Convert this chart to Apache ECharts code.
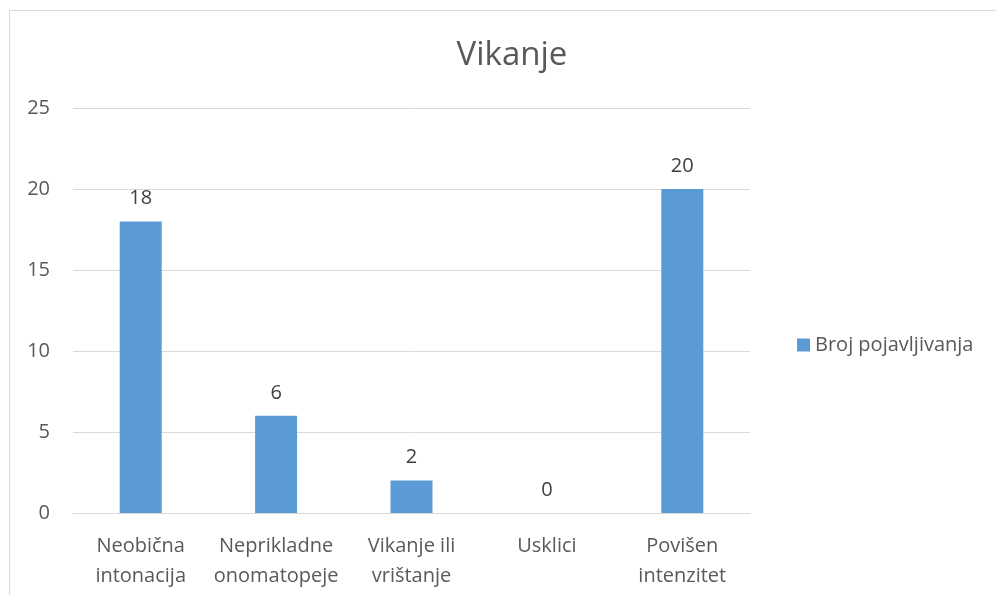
<!DOCTYPE html>
<html>
<head>
<meta charset="utf-8">
<script src="https://cdn.jsdelivr.net/npm/echarts@6/dist/echarts.min.js"></script>
<style>
    html, body { margin: 0; padding: 0; background: #fff; }
    #chart { width: 996px; height: 595px; }
</style>
</head>
<body>
<div id="chart"></div>
<script>
    var categories = ['Neobična\nintonacija', 'Neprikladne\nonomatopeje', 'Vikanje ili\nvrištanje', 'Usklici', 'Povišen\nintenzitet'];
    var counts = [18, 6, 2, 0, 20];
    var seriesName = 'Broj pojavljivanja';

    var font = '"Open Sans", "Noto Sans", sans-serif';
    var chart = echarts.init(document.getElementById('chart'));

    chart.setOption({
        animation: false,
        textStyle: { fontFamily: font },
        graphic: [{
            type: 'rect',
            shape: { x: 9.5, y: 10.5, width: 1000, height: 600 },
            style: { fill: 'none', stroke: '#d9d9d9', lineWidth: 1 },
            silent: true
        }],
        title: {
            text: 'Vikanje',
            left: 507,
            textAlign: 'center',
            top: 34,
            textStyle: { color: '#595959', fontSize: 33, fontWeight: 'normal', fontFamily: font }
        },
        legend: {
            left: 792,
            top: 330,
            itemWidth: 13,
            itemHeight: 13,
            itemGap: 6,
            icon: 'rect',
            textStyle: { color: '#595959', fontSize: 20, fontFamily: font },
            data: [seriesName]
        },
        grid: {
            left: 73,
            right: 246,
            top: 108,
            bottom: 82,
            containLabel: false
        },
        xAxis: {
            type: 'category',
            data: categories,
            axisLine: { show: true, lineStyle: { color: '#d9d9d9' } },
            axisTick: { show: false },
            axisLabel: {
                color: '#595959',
                fontSize: 20,
                lineHeight: 30,
                margin: 18,
                interval: 0,
                fontFamily: font
            }
        },
        yAxis: {
            type: 'value',
            min: 0,
            max: 25,
            interval: 5,
            axisLine: { show: false },
            axisTick: { show: false },
            axisLabel: { color: '#595959', fontSize: 20, margin: 23, fontFamily: font },
            splitLine: { lineStyle: { color: '#d9d9d9', width: 1 } }
        },
        series: [{
            name: seriesName,
            type: 'bar',
            data: counts,
            barWidth: 42,
            itemStyle: { color: '#5b9bd5' },
            label: {
                show: true,
                position: 'top',
                distance: 13,
                color: '#404040',
                fontSize: 20,
                fontFamily: font
            }
        }]
    });
</script>
</body>
</html>
